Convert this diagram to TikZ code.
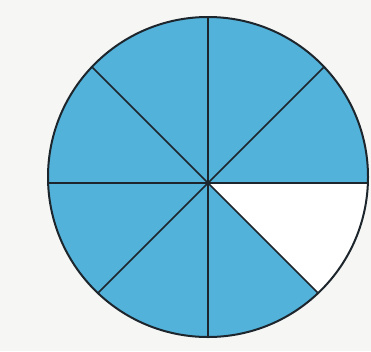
\documentclass[tikz,border=0pt]{standalone}
\usetikzlibrary{calc}
\begin{document}
\begin{tikzpicture}[x=1pt,y=-1pt]
\definecolor{pieblue}{RGB}{82,178,218}
\definecolor{bgc}{RGB}{246,246,244}
\definecolor{ink}{RGB}{30,38,45}
\tikzset{spoke/.style={draw=ink,line width=1.6pt},rim/.style={draw=ink,line width=2pt}}
\useasboundingbox (0,0) rectangle (371,351);
\fill[bgc] (0,0) rectangle (371,351);
\coordinate (O) at (208,183);
\coordinate (C) at (208,177);
\begin{scope}
\clip (C) circle[radius=160pt];
\fill[pieblue] (C) circle[radius=160pt];
\fill[white] (O) -- ($(O)+(0:400)$) -- ($(O)+(45:400)$) -- cycle;
\foreach \a in {0,45,...,315} {
  \draw[spoke] (O) -- ($(O)+(\a:400)$);
}
\end{scope}
\draw[rim] (C) circle[radius=160pt];
\end{tikzpicture}
\end{document}
